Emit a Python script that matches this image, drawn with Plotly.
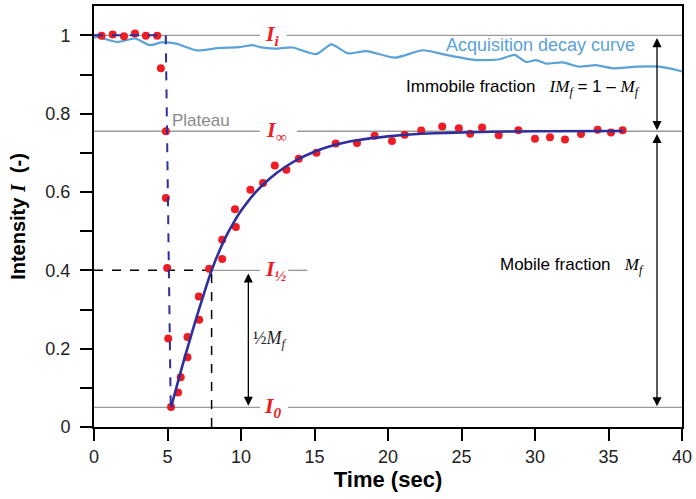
import plotly.graph_objects as go

# ---------------- data ----------------
pre_t = [0.52, 1.27, 2.04, 2.79, 3.53, 4.30]
pre_I = [0.999, 1.002, 0.998, 1.005, 0.999, 0.999]

bleach_t = [4.55, 4.89, 4.89, 4.98, 5.05]
bleach_I = [0.916, 0.755, 0.585, 0.406, 0.226]

recovery_t = [5.24, 5.72, 5.90, 6.36, 6.36, 7.15, 7.13, 7.83, 8.72, 8.72, 9.65, 9.59,
              10.64, 11.50, 12.30, 13.09, 13.93, 15.13, 16.44, 17.89, 19.09, 20.27,
              21.13, 22.26, 23.69, 24.82, 25.59, 26.40, 27.53, 28.87, 30.00, 31.02,
              32.04, 33.13, 34.26, 35.17, 35.96]
recovery_I = [0.051, 0.088, 0.127, 0.178, 0.230, 0.274, 0.333, 0.404, 0.429, 0.478, 0.511, 0.556,
              0.606, 0.623, 0.668, 0.657, 0.685, 0.700, 0.724, 0.725, 0.744, 0.730,
              0.746, 0.757, 0.767, 0.763, 0.749, 0.765, 0.745, 0.758, 0.736, 0.740,
              0.734, 0.748, 0.759, 0.752, 0.758]

fit_t = [5.24, 5.6, 6.0, 6.5, 7.0, 7.5, 8.0, 8.5, 9.0, 9.5, 10.0, 11.0, 12.0, 13.0, 14.0,
         15.0, 16.0, 17.0, 18.0, 20.0, 22.0, 24.0, 27.0, 30.0, 36.0]
fit_I = [0.050, 0.100, 0.155, 0.220, 0.283, 0.343, 0.400, 0.447, 0.488, 0.522, 0.552, 0.600,
         0.636, 0.664, 0.686, 0.703, 0.716, 0.726, 0.733, 0.742, 0.748, 0.751, 0.754, 0.755, 0.756]

prefit_t = [0.0, 4.88]
prefit_I = [1.0, 1.0]
drop_t = [4.88, 5.22]
drop_I = [1.0, 0.05]

decay_t = [0.0, 0.18, 1.6, 2.8, 3.8, 4.6, 5.6, 6.97, 8.56, 9.9, 10.8, 11.28, 12.3, 13.5, 15.13,
           16.15, 17.28, 18.53, 20.45, 22.37, 23.96, 26.0, 27.6, 28.6, 29.4, 30.07, 30.75,
           31.88, 33.0, 34.15, 35.28, 36.87, 38.45, 39.9, 40.0]
decay_I = [0.994, 0.996, 0.983, 0.992, 0.975, 0.982, 0.979, 0.962, 0.968, 0.970, 0.975, 0.970,
           0.966, 0.969, 0.952, 0.977, 0.954, 0.960, 0.943, 0.962, 0.950, 0.937, 0.939, 0.950,
           0.932, 0.937, 0.928, 0.931, 0.920, 0.924, 0.916, 0.920, 0.920, 0.909, 0.908]

I_i, I_inf, I_half, I_0 = 1.0, 0.755, 0.40, 0.05
tau_half = 8.0
t_min, t_max = 0, 40
x_ticks = [0, 5, 10, 15, 20, 25, 30, 35, 40]
y_ticks = [0, 0.2, 0.4, 0.6, 0.8, 1.0]
y_ticktext = ["0", "0.2", "0.4", "0.6", "0.8", "1"]

# ---------------- styles ----------------
GRAY = "#9a9a9a"
RED = "#ee1d23"
NAVY = "#2e2e9c"
LIGHTBLUE = "#5aa2d8"
SANS = "Arial, Liberation Sans, sans-serif"
SERIF = "Times New Roman, Liberation Serif, serif"

fig = go.Figure()

def seg(x0, x1, y, color=GRAY, width=1.4, dash="solid"):
    fig.add_trace(go.Scatter(x=[x0, x1], y=[y, y], mode="lines",
                             line=dict(color=color, width=width, dash=dash),
                             hoverinfo="skip", showlegend=False))

# gray reference levels with gaps for labels
seg(t_min, 11.28, I_i); seg(13.1, t_max, I_i)
seg(t_min, 11.28, I_inf); seg(13.8, t_max, I_inf)
seg(tau_half, 11.28, I_half); seg(13.2, 14.5, I_half)
seg(t_min, 11.28, I_0); seg(13.2, t_max, I_0)

# black dashed half-level guides
seg(t_min, tau_half, I_half, color="black", width=1.5, dash="dash")
fig.add_trace(go.Scatter(x=[tau_half, tau_half], y=[0, I_half], mode="lines",
                         line=dict(color="black", width=1.5, dash="dash"),
                         hoverinfo="skip", showlegend=False))

# acquisition decay curve
fig.add_trace(go.Scatter(x=decay_t, y=decay_I, mode="lines",
                         line=dict(color=LIGHTBLUE, width=2.2, shape="spline", smoothing=0.6),
                         hoverinfo="skip", showlegend=False))

# data points
fig.add_trace(go.Scatter(x=pre_t + bleach_t + recovery_t, y=pre_I + bleach_I + recovery_I,
                         mode="markers", marker=dict(color=RED, size=8),
                         hoverinfo="skip", showlegend=False))

# fit lines
fig.add_trace(go.Scatter(x=prefit_t, y=prefit_I, mode="lines",
                         line=dict(color=NAVY, width=2, dash="dash"),
                         hoverinfo="skip", showlegend=False))
fig.add_trace(go.Scatter(x=drop_t, y=drop_I, mode="lines",
                         line=dict(color=NAVY, width=2, dash="dash"),
                         hoverinfo="skip", showlegend=False))
fig.add_trace(go.Scatter(x=fit_t, y=fit_I, mode="lines",
                         line=dict(color=NAVY, width=2.6, shape="spline", smoothing=0.8),
                         hoverinfo="skip", showlegend=False))

def lab(x, y, text, size=18, color="black", family=SANS, xanchor="center"):
    fig.add_annotation(x=x, y=y, xref="x", yref="y", text=text, showarrow=False,
                       font=dict(size=size, color=color, family=family),
                       xanchor=xanchor, yanchor="middle")

# level labels
lab(12.15, I_i, "<b><i>I<sub>i</sub></i></b>", size=22, color=RED, family=SERIF)
lab(12.4, I_inf, "<b><i>I<sub>∞</sub></i></b>", size=22, color=RED, family=SERIF)
lab(12.35, I_half, "<b><i>I<sub>½</sub></i></b>", size=22, color=RED, family=SERIF)
lab(12.2, I_0, "<b><i>I<sub>0</sub></i></b>", size=22, color=RED, family=SERIF)

lab(7.3, 0.782, "Plateau", size=17, color="#8a8a8a")
lab(36.96, 0.975, "Acquisition decay curve", size=18, color=LIGHTBLUE, xanchor="right")
lab(37.3, 0.866,
    "Immobile fraction   <span style='font-family:Liberation Serif'><i>IM<sub>f</sub></i></span>"
    " = 1 – <span style='font-family:Liberation Serif'><i>M<sub>f</sub></i></span>",
    size=17, xanchor="right")
lab(37.57, 0.411,
    "Mobile fraction   <span style='font-family:Liberation Serif'><i>M<sub>f</sub></i></span>",
    size=17, xanchor="right")
lab(12.0, 0.224, "½<i>M<sub>f</sub></i>", size=18, color="#222", family=SERIF)
lab(8.05, -0.038, "<i>τ<sub>½</sub></i>", size=22, color="#222", family=SERIF)

def darrow(x, y0, y1):
    fig.add_annotation(x=x, y=y0, ax=x, ay=y1, xref="x", yref="y", axref="x", ayref="y",
                       text="", showarrow=True, arrowside="end+start",
                       arrowhead=2, startarrowhead=2, arrowsize=1.4, startarrowsize=1.4,
                       arrowwidth=1.3, arrowcolor="black", standoff=0, startstandoff=0)

darrow(38.3, 0.758, 0.997)
darrow(38.3, 0.053, 0.752)
darrow(10.5, 0.054, 0.396)

fig.update_layout(
    width=696, height=499,
    margin=dict(l=94, r=12, t=4, b=72),
    paper_bgcolor="white", plot_bgcolor="white",
    showlegend=False,
    font=dict(family=SANS, color="#222"),
    xaxis=dict(range=[t_min, t_max], tickvals=x_ticks, showgrid=False, zeroline=False,
               showline=True, linecolor="black", linewidth=2, mirror=True,
               ticks="outside", ticklen=12, tickwidth=2, tickcolor="black",
               tickfont=dict(size=18, family=SANS, color="#222"),
               title=dict(text="<b>Time (sec)</b>", font=dict(size=22, family=SANS, color="black"),
                          standoff=6)),
    yaxis=dict(range=[0, 1.075], tickvals=y_ticks, ticktext=y_ticktext, showgrid=False,
               zeroline=False, showline=True, linecolor="black", linewidth=2, mirror=True,
               ticks="outside", ticklen=12, tickwidth=2, tickcolor="black",
               ticklabelstandoff=6,
               minor=dict(dtick=0.1, tick0=0, ticks="outside", ticklen=12, tickwidth=2,
                          tickcolor="black", showgrid=False),
               tickfont=dict(size=18, family=SANS, color="#222"),
               title=dict(text="<b>Intensity <span style='font-family:Liberation Serif'><i>I</i></span>  (-)</b>",
                          font=dict(size=20, family=SANS, color="black"), standoff=14)),
)

fig.write_html("out.html")
